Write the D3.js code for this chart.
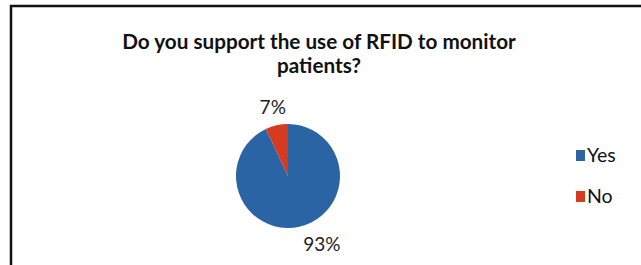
<!DOCTYPE html>
<html><head><meta charset="utf-8">
<script src="https://cdn.jsdelivr.net/npm/d3@7"></script>
<style>body{margin:0;background:#fff}svg{display:block}</style>
</head><body>
<svg id="c" width="641" height="265"></svg>
<script>
const categories = ["Yes", "No"];
const values = [93, 7];
const labels = ["93%", "7%"];
const colors = ["#2b64a5", "#d63a1f"];
const titleLines = ["Do you support the use of RFID to monitor", "patients?"];

const svg = d3.select("#c");
const font = "Lato, 'Open Sans', sans-serif";

// frame
svg.append("path").attr("d", "M11,270 L11,6 L650,6")
  .attr("fill", "none").attr("stroke", "#111").attr("stroke-width", 2.5);

svg.selectAll("text.title").data(titleLines).join("text")
  .attr("class", "title")
  .attr("x", 319).attr("y", (d, i) => 49 + i * 24)
  .attr("text-anchor", "middle")
  .attr("font-family", font).attr("font-weight", "bold").attr("font-size", 20.7)
  .attr("fill", "#111").text(d => d);

const cx = 288, cy = 176, r = 52;
const pie = d3.pie().sort(null).value(d => d);
const arcs = pie(values);
const arc = d3.arc().innerRadius(0).outerRadius(r);
const g = svg.append("g").attr("transform", `translate(${cx},${cy})`);
g.selectAll("path").data(arcs).join("path")
  .attr("d", arc).attr("fill", (d, i) => colors[i]);

const labelArc = d3.arc().innerRadius(r + 18).outerRadius(r + 18);
g.selectAll("text").data(arcs).join("text")
  .attr("transform", d => {
    const [x, y] = labelArc.centroid(d);
    return `translate(${x},${y})`;
  })
  .attr("text-anchor", d => labelArc.centroid(d)[1] > 0 ? "start" : "middle")
  .attr("dy", "0.35em")
  .attr("font-family", font).attr("font-size", 19).attr("fill", "#222")
  .text((d, i) => labels[i]);

const lg = svg.append("g").attr("transform", "translate(576,150)");
const items = lg.selectAll("g").data(categories).join("g")
  .attr("transform", (d, i) => `translate(0,${i * 41})`);
items.append("rect").attr("x", 0).attr("y", 0).attr("width", 9).attr("height", 11)
  .attr("fill", (d, i) => colors[i]);
items.append("text").attr("x", 11).attr("y", 12)
  .attr("font-family", font).attr("font-size", 19.5).attr("fill", "#111")
  .text(d => d);
</script>
</body></html>
